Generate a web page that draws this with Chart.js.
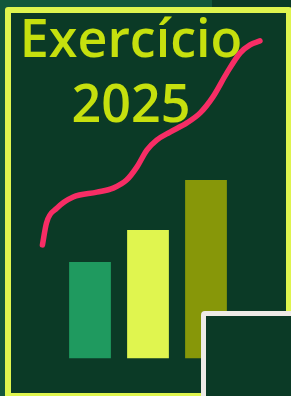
<!DOCTYPE html>
<html>
<head>
<meta charset="utf-8">
<script src="https://cdn.jsdelivr.net/npm/chart.js@4"></script>
<style>
  html, body { margin: 0; padding: 0; }
  body { width: 291px; height: 396px; overflow: hidden; position: relative; background: #13573b; }
  .corner { position: absolute; left: 212px; top: 0; width: 79px; height: 8px; background: #0b3a26; }
  .frame {
    position: absolute; left: 5px; top: 7px; width: 275px; height: 380px;
    border: 6px solid #dff54e; border-radius: 3px; background: #0b3a26;
  }
  #chart { position: absolute; left: 0; top: 0; }
  .card {
    position: absolute; left: 201px; top: 311px; width: 100px; height: 100px;
    border: 5px solid #eeebe6; border-radius: 4px; background: #0b3a26;
  }
</style>
</head>
<body>
<div class="corner"></div>
<div class="frame"></div>
<canvas id="chart" width="291" height="396"></canvas>
<div class="card"></div>
<script>
// title lines
const titleLines = ['Exercício', '2025'];

// bars: position on the x axis, value, colour
const barX = [1, 2, 3];
const barValues = [2.41, 3.21, 4.46];
const barColors = ['#1f9a5f', '#e0f54f', '#879709'];

// trend curve
const lineX = [0.18, 0.25, 0.43, 0.71, 1.12, 1.40, 1.63, 1.81, 1.98, 2.15, 2.38, 2.67, 2.90, 3.12, 3.36, 3.59, 3.76, 3.93];
const lineY = [2.84, 3.39, 3.76, 4.04, 4.16, 4.26, 4.46, 4.79, 5.21, 5.46, 5.66, 5.89, 6.14, 6.54, 7.14, 7.64, 7.84, 7.94];

const canvas = document.getElementById('chart');

new Chart(canvas, {
  type: 'bar',
  data: {
    datasets: [
      {
        type: 'line',
        data: lineX.map((x, i) => ({ x, y: lineY[i] })),
        borderColor: '#f72d65',
        borderWidth: 5.5,
        borderCapStyle: 'round',
        cubicInterpolationMode: 'monotone',
        pointRadius: 0,
        fill: false,
        clip: false,
        order: 0,
      },
      {
        data: barX.map((x, i) => ({ x, y: barValues[i] })),
        backgroundColor: barColors,
        borderWidth: 0,
        barPercentage: 0.9,
        categoryPercentage: 0.8,
        order: 1,
      },
    ],
  },
  options: {
    responsive: false,
    animation: false,
    devicePixelRatio: 1,
    layout: { padding: { left: 0, right: 29, top: 0, bottom: 37.5 } },
    plugins: {
      legend: { display: false },
      tooltip: { enabled: false },
      title: {
        display: true,
        text: titleLines,
        color: '#c6e00e',
        font: { family: "'Open Sans'", weight: '600', size: 52, lineHeight: 1.25 },
        padding: { top: 10, bottom: 0 },
      },
    },
    scales: {
      x: { type: 'linear', min: -0.5517, max: 3.9655, offset: false, display: false },
      y: { min: 0, max: 5.4625, display: false },
    },
  },
});
</script>
</body>
</html>
